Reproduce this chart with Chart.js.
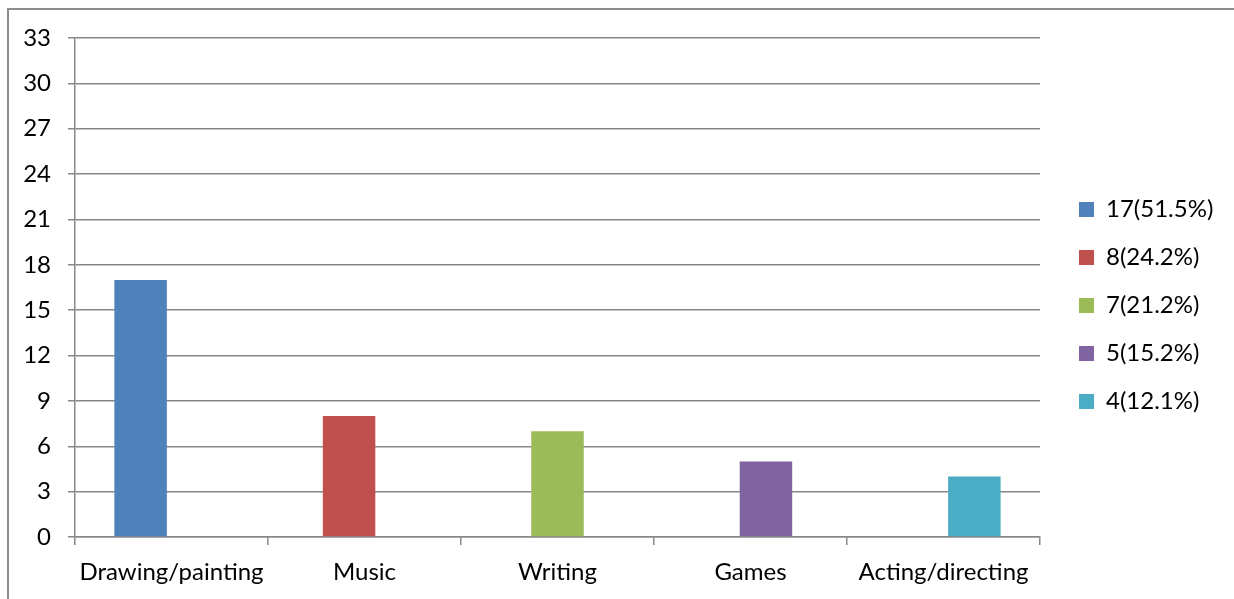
<!DOCTYPE html>
<html>
<head>
<meta charset="utf-8">
<script src="https://cdn.jsdelivr.net/npm/chart.js@4/dist/chart.umd.min.js"></script>
<style>
    body { margin: 0; background: #fff; }
    #interest_chart { display: block; }
</style>
</head>
<body>
<canvas id="interest_chart" width="1234" height="599"></canvas>
<script>
const categories = ['Drawing/painting', 'Music', 'Writing', 'Games', 'Acting/directing'];
const counts = [17, 8, 7, 5, 4];
const seriesNames = ['17(51.5%)', '8(24.2%)', '7(21.2%)', '5(15.2%)', '4(12.1%)'];
const colors = ['#4f81bd', '#c0504d', '#9bbb59', '#8064a2', '#4bacc6'];
const yTicks = [0, 3, 6, 9, 12, 15, 18, 21, 24, 27, 30, 33];

const gridGray = '#878787';
const fontFamily = 'Lato, "Open Sans", sans-serif';

// one series per category, each holding only its own count
const datasets = seriesNames.map((name, i) => ({
    label: name,
    backgroundColor: colors[i],
    borderWidth: 0,
    data: categories.map((c, j) => (j === i ? counts[i] : null))
}));

// frame round the whole chart, only the top and left edges fall inside the canvas
const chartFrame = {
    id: 'chartFrame',
    beforeDraw(chart) {
        const ctx = chart.ctx;
        ctx.save();
        ctx.fillStyle = '#fff';
        ctx.fillRect(0, 0, chart.width, chart.height);
        ctx.strokeStyle = '#8c8c8c';
        ctx.lineWidth = 2;
        ctx.strokeRect(8, 9, chart.width + 20, chart.height + 20);
        ctx.restore();
    }
};

// fixed-width legend column on the right, nudged into place
const legendNudge = {
    id: 'legendNudge',
    afterInit(chart) {
        const lg = chart.legend;
        const fit = lg.fit;
        lg.fit = function () {
            fit.call(this);
            this.width = 194;
        };
    },
    afterLayout(chart) {
        const lg = chart.legend;
        lg.left += 15;
        lg.right += 15;
        lg.top -= 13;
        lg.bottom -= 13;
    }
};

const interest_chart = document.getElementById('interest_chart');

const myChart = new Chart(interest_chart, {
    type: 'bar',
    data: {
        labels: categories,
        datasets: datasets
    },
    plugins: [chartFrame, legendNudge],
    options: {
        responsive: false,
        animation: false,
        categoryPercentage: 0.4,
        barPercentage: 3.4,
        layout: {
            padding: { top: 38, left: 8, right: 0, bottom: 0 }
        },
        plugins: {
            tooltip: { enabled: false },
            title: { display: false },
            legend: {
                position: 'right',
                align: 'center',
                labels: {
                    color: '#000',
                    boxWidth: 15,
                    boxHeight: 15,
                    padding: 24,
                    font: { family: fontFamily, size: 24 }
                }
            }
        },
        scales: {
            x: {
                afterFit(scale) { scale.height = 62; },
                ticks: {
                    color: '#000',
                    padding: 13,
                    maxRotation: 0,
                    autoSkip: false,
                    font: { family: fontFamily, size: 24 }
                },
                grid: {
                    offset: true,
                    drawOnChartArea: false,
                    drawTicks: true,
                    tickLength: 8,
                    color: gridGray,
                    lineWidth: 1.5
                },
                border: { color: gridGray, width: 1.5 }
            },
            y: {
                min: 0,
                max: 33,
                afterFit(scale) { scale.width = 67; },
                afterBuildTicks(scale) {
                    scale.ticks = yTicks.map(v => ({ value: v }));
                },
                ticks: {
                    color: '#000',
                    padding: 17,
                    font: { family: fontFamily, size: 24 }
                },
                grid: {
                    color: gridGray,
                    lineWidth: 1.5,
                    tickLength: 7
                },
                border: { color: gridGray, width: 1.5 }
            }
        }
    }
});
</script>
</body>
</html>
